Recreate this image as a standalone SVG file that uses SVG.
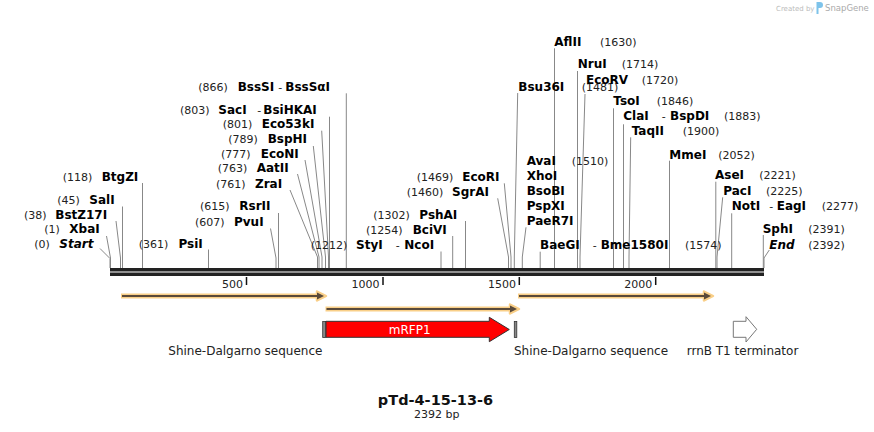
<svg xmlns="http://www.w3.org/2000/svg" width="874" height="432" viewBox="0 0 874 432">
<style>
.n{font:11px "DejaVu Sans",Verdana,sans-serif;fill:#222}
.e{font:bold 12px "DejaVu Sans",Verdana,sans-serif;fill:#000}
.it{font-style:italic}
.ld{stroke:#888;stroke-width:1;fill:none}
.tk{stroke:#111;stroke-width:1.5}
.fl{font:12px "DejaVu Sans",Verdana,sans-serif;fill:#222}
.halo{stroke:#f9cf88;fill:none;stroke-width:5}
.core{stroke:#5a4a3a;fill:none;stroke-width:2}
</style>
<rect width="874" height="432" fill="#fff"/>

<g id="credit">
<text x="776" y="10.5" style="font:7px 'DejaVu Sans',sans-serif;fill:#bbb">Created by</text>
<path d="M816.5,2 h3.5 a3,3 0 0 1 0,6 h-1.5 v6 h-2 z" fill="#7ec3ea"/>
<text x="825" y="11" style="font:8.5px 'DejaVu Sans',sans-serif;fill:#aaa">SnapGene</text>
</g>

<g id="connectors">
<path class="ld" d="M100,248.5 L110,258.5 V268"/>
<path class="ld" d="M106.5,236 L110.5,258 V268"/>
<path class="ld" d="M116,221 L120.5,258 V268"/>
<path class="ld" d="M122.5,206.5 V268"/>
<path class="ld" d="M142.5,183 V268"/>
<path class="ld" d="M208.5,249.5 V268"/>
<path class="ld" d="M270.5,228.5 L276,258 V268"/>
<path class="ld" d="M278.5,213 V268"/>
<path class="ld" d="M290,190 L317.5,257 V268"/>
<path class="ld" d="M297.5,174 L319,257 V268"/>
<path class="ld" d="M305,160 L322,257 V268"/>
<path class="ld" d="M313.3,146 L325.5,257 V268"/>
<path class="ld" d="M321.7,130.7 L328.5,257 V268"/>
<path class="ld" d="M329.5,116.7 V268"/>
<path class="ld" d="M346.3,93.3 V268"/>
<path class="ld" d="M441,251.5 V268"/>
<path class="ld" d="M452.7,236 V268"/>
<path class="ld" d="M465.5,221 V268"/>
<path class="ld" d="M497.7,198.3 L508.5,257 V268"/>
<path class="ld" d="M504.3,183.3 L511,257 V268"/>
<path class="ld" d="M517.7,93 L514.3,257 V268"/>
<path class="ld" d="M526,227.3 L522.3,257 V268"/>
<path class="ld" d="M540.2,251.7 V268"/>
<path class="ld" d="M554.5,48.3 V268"/>
<path class="ld" d="M577.5,71 V268"/>
<path class="ld" d="M585,94 L580,257 V268"/>
<path class="ld" d="M613.5,108.3 V268"/>
<path class="ld" d="M623.5,124.3 V268"/>
<path class="ld" d="M630.7,137.3 L629,257 V268"/>
<path class="ld" d="M669.5,160.7 V268"/>
<path class="ld" d="M715.8,181.7 V268"/>
<path class="ld" d="M722.7,197.3 L717,257 V268"/>
<path class="ld" d="M731.7,213.3 V268"/>
<path class="ld" d="M763.3,235 V268"/>
<path class="ld" d="M769.3,250 L764,258 V268"/>
</g>

<g id="map">
<rect x="110" y="268" width="654" height="3.5" fill="#222"/>
<rect x="110" y="272.5" width="654" height="3.5" fill="#222"/>
<line class="tk" x1="246.5" y1="277" x2="246.5" y2="285"/>
<line class="tk" x1="383" y1="277" x2="383" y2="285"/>
<line class="tk" x1="519.3" y1="277" x2="519.3" y2="285"/>
<line class="tk" x1="655.7" y1="277" x2="655.7" y2="285"/>
<text class="n" x="243" y="288" text-anchor="end">500</text>
<text class="n" x="379.5" y="288" text-anchor="end">1000</text>
<text class="n" x="516" y="288" text-anchor="end">1500</text>
<text class="n" x="652.3" y="288" text-anchor="end">2000</text>
</g>

<g id="site-start"><text class="n" x="34.3" y="248">(0)</text><text class="e it" x="59.3" y="248">Start</text></g>
<g id="site-XbaI"><text class="n" x="44.3" y="233">(1)</text><text class="e" x="69.3" y="233">XbaI</text></g>
<g id="site-BstZ17I"><text class="n" x="24" y="218.5">(38)</text><text class="e" x="55.3" y="218.5">BstZ17I</text></g>
<g id="site-SalI"><text class="n" x="57.3" y="204">(45)</text><text class="e" x="89.3" y="204">SalI</text></g>
<g id="site-BtgZI"><text class="n" x="62.7" y="181">(118)</text><text class="e" x="101.7" y="181">BtgZI</text></g>
<g id="site-PsiI"><text class="n" x="138.7" y="248">(361)</text><text class="e" x="178.5" y="248">PsiI</text></g>
<g id="site-PvuI"><text class="n" x="195" y="226">(607)</text><text class="e" x="234" y="226">PvuI</text></g>
<g id="site-RsrII"><text class="n" x="200" y="210">(615)</text><text class="e" x="239.3" y="210">RsrII</text></g>
<g id="site-ZraI"><text class="n" x="216" y="187.5">(761)</text><text class="e" x="255" y="187.5">ZraI</text></g>
<g id="site-AatII"><text class="n" x="217.7" y="172">(763)</text><text class="e" x="256.7" y="172">AatII</text></g>
<g id="site-EcoNI"><text class="n" x="221" y="157.5">(777)</text><text class="e" x="260.7" y="157.5">EcoNI</text></g>
<g id="site-BspHI"><text class="n" x="228.3" y="143">(789)</text><text class="e" x="267.7" y="143">BspHI</text></g>
<g id="site-Eco53kI"><text class="n" x="222.7" y="127.5">(801)</text><text class="e" x="261.7" y="127.5">Eco53kI</text></g>
<g id="site-SacI"><text class="n" x="180" y="113.5">(803)</text><text class="e" x="218.3" y="113.5">SacI</text><text class="n" x="257.3" y="113.5">-</text><text class="e" x="263.3" y="113.5">BsiHKAI</text></g>
<g id="site-BssSI"><text class="n" x="198.3" y="91">(866)</text><text class="e" x="237.7" y="91">BssSI</text><text class="n" x="278.3" y="91">-</text><text class="e" x="285.3" y="91">BssSαI</text></g>
<g id="site-StyI"><text class="n" x="310.7" y="248.5">(1212)</text><text class="e" x="356" y="248.5">StyI</text><text class="n" x="395.7" y="248.5">-</text><text class="e" x="404.3" y="248.5">NcoI</text></g>
<g id="site-BciVI"><text class="n" x="366" y="233.5">(1254)</text><text class="e" x="412.7" y="233.5">BciVI</text></g>
<g id="site-PshAI"><text class="n" x="373.3" y="218.5">(1302)</text><text class="e" x="419.3" y="218.5">PshAI</text></g>
<g id="site-SgrAI"><text class="n" x="406.7" y="196">(1460)</text><text class="e" x="452" y="196">SgrAI</text></g>
<g id="site-EcoRI"><text class="n" x="416.7" y="180.5">(1469)</text><text class="e" x="462.3" y="180.5">EcoRI</text></g>
<g id="site-Bsu36I"><text class="e" x="518.3" y="91">Bsu36I</text><text class="n" x="581.7" y="91">(1481)</text></g>
<g id="site-AvaI"><text class="e" x="526.7" y="165">AvaI</text><text class="n" x="571.7" y="165">(1510)</text><text class="e" x="526.7" y="180">XhoI</text><text class="e" x="526.7" y="195">BsoBI</text><text class="e" x="526.7" y="210">PspXI</text><text class="e" x="526.7" y="224.5">PaeR7I</text></g>
<g id="site-BaeGI"><text class="e" x="540" y="248.5">BaeGI</text><text class="n" x="592.7" y="248.5">-</text><text class="e" x="600.7" y="248.5">Bme1580I</text><text class="n" x="685" y="248.5">(1574)</text></g>
<g id="site-AflII"><text class="e" x="554.3" y="46">AflII</text><text class="n" x="600" y="46">(1630)</text></g>
<g id="site-NruI"><text class="e" x="577.7" y="68">NruI</text><text class="n" x="621.7" y="68">(1714)</text></g>
<g id="site-EcoRV"><text class="e" x="586" y="83.5">EcoRV</text><text class="n" x="641.7" y="83.5">(1720)</text></g>
<g id="site-TsoI"><text class="e" x="613.3" y="105">TsoI</text><text class="n" x="656.7" y="105">(1846)</text></g>
<g id="site-ClaI"><text class="e" x="623.3" y="120">ClaI</text><text class="n" x="661.7" y="120">-</text><text class="e" x="670" y="120">BspDI</text><text class="n" x="724" y="120">(1883)</text></g>
<g id="site-TaqII"><text class="e" x="631.7" y="135">TaqII</text><text class="n" x="682.7" y="135">(1900)</text></g>
<g id="site-MmeI"><text class="e" x="669.3" y="158.5">MmeI</text><text class="n" x="718.3" y="158.5">(2052)</text></g>
<g id="site-AseI"><text class="e" x="715" y="179">AseI</text><text class="n" x="759.3" y="179">(2221)</text></g>
<g id="site-PacI"><text class="e" x="723.3" y="194.5">PacI</text><text class="n" x="766" y="194.5">(2225)</text></g>
<g id="site-NotI"><text class="e" x="731.7" y="210">NotI</text><text class="n" x="769.3" y="210">-</text><text class="e" x="776.7" y="210">EagI</text><text class="n" x="821.7" y="210">(2277)</text></g>
<g id="site-SphI"><text class="e" x="762.7" y="233">SphI</text><text class="n" x="808.3" y="233">(2391)</text></g>
<g id="site-end"><text class="e it" x="769.3" y="248.5">End</text><text class="n" x="808.3" y="248.5">(2392)</text></g>

<g id="primer-1">
<path class="halo" d="M121,296 H318"/>
<polygon points="317,291.5 326,296 317,300.5" fill="#f9cf88" stroke="#f9cf88" stroke-width="2.5" stroke-linejoin="round"/>
<path class="core" d="M122,296 H318"/>
<polygon points="317,292.5 324,296 317,299.5" fill="#5a4a3a"/>
</g>
<g id="primer-2">
<path class="halo" d="M325.5,309 H511"/>
<polygon points="510,304.5 519,309 510,313.5" fill="#f9cf88" stroke="#f9cf88" stroke-width="2.5" stroke-linejoin="round"/>
<path class="core" d="M326.5,309 H511"/>
<polygon points="510,305.5 517,309 510,312.5" fill="#5a4a3a"/>
</g>
<g id="primer-3">
<path class="halo" d="M518,296 H705"/>
<polygon points="704,291.5 713,296 704,300.5" fill="#f9cf88" stroke="#f9cf88" stroke-width="2.5" stroke-linejoin="round"/>
<path class="core" d="M519,296 H705"/>
<polygon points="704,292.5 711,296 704,299.5" fill="#5a4a3a"/>
</g>

<g id="sd-1">
<rect x="322.7" y="321.5" width="3" height="16" fill="#888" stroke="#333" stroke-width="0.8"/>
<text class="fl" x="168.3" y="355">Shine-Dalgarno sequence</text>
</g>
<g id="mRFP1">
<polygon points="326,321.3 489.3,321.3 489.3,317.3 509.3,329.5 489.3,341.7 489.3,337.3 326,337.3" fill="#f00" stroke="#333" stroke-width="1"/>
<text x="409.7" y="333.5" text-anchor="middle" style="font:12px 'DejaVu Sans',Verdana,sans-serif;fill:#fff">mRFP1</text>
</g>
<g id="sd-2">
<rect x="514.3" y="321.5" width="2.5" height="16" fill="#888" stroke="#333" stroke-width="0.8"/>
<text class="fl" x="514" y="355">Shine-Dalgarno sequence</text>
</g>
<g id="terminator">
<polygon points="733.3,321.3 746,321.3 746,316.7 756.7,329.3 746,342 746,337.3 733.3,337.3" fill="#fff" stroke="#777" stroke-width="1"/>
<text class="fl" x="686.7" y="355">rrnB T1 terminator</text>
</g>

<g id="title">
<text x="435.5" y="405" text-anchor="middle" style="font:bold 14.5px 'DejaVu Sans',Verdana,sans-serif;fill:#111">pTd-4-15-13-6</text>
<text x="436.7" y="418" text-anchor="middle" style="font:11px 'DejaVu Sans',Verdana,sans-serif;fill:#222">2392 bp</text>
</g>
</svg>
